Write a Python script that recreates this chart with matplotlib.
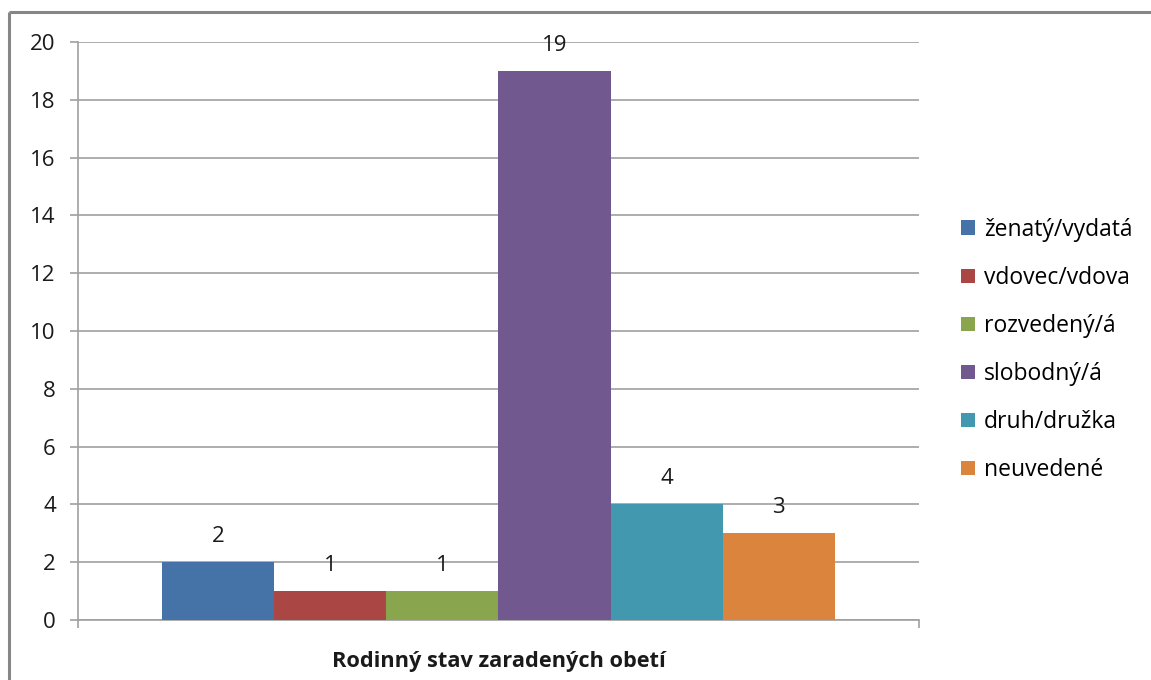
import matplotlib.pyplot as plt
import numpy as np
from matplotlib.lines import Line2D

# data
categories = ["ženatý/vydatá", "vdovec/vdova", "rozvedený/á", "slobodný/á", "druh/družka", "neuvedené"]
values = [2, 1, 1, 19, 4, 3]
colors = ["#4572A7", "#AA4643", "#89A54E", "#71588F", "#4198AF", "#DB843D"]
y_ticks = list(range(0, 21, 2))
x_title = "Rodinný stav zaradených obetí"

plt.rcParams["font.family"] = ["Open Sans", "DejaVu Sans"]

W, H = 1151, 680
fig = plt.figure(figsize=(W / 100, H / 100), dpi=100)
ax = fig.add_axes([78 / W, 1 - 620 / H, (919 - 78) / W, (620 - 42) / H])

n = len(values)
bw = 0.8 / n
xs = -0.4 + bw / 2 + bw * np.arange(n)
bars = ax.bar(xs, values, width=bw, color=colors, label=categories, zorder=3)

for x, v in zip(xs, values):
    ax.annotate(str(v), (x, v), xytext=(0, 18.5), textcoords="offset points",
                ha="center", va="center", fontsize=16, color="#1a1a1a")

ax.set_xlim(-0.5, 0.5)
ax.set_ylim(0, 20)
ax.set_yticks(y_ticks)
ax.set_yticklabels([str(t) for t in y_ticks], fontsize=16, color="#1a1a1a")
ax.set_xticks([-0.5, 0.5])
ax.set_xticklabels(["", ""])
ax.tick_params(axis="both", direction="out", length=6, width=1.2, color="#A0A0A0")
ax.tick_params(axis="y", pad=10)
ax.yaxis.grid(True, color="#A0A0A0", linewidth=1.2, zorder=0)
for side in ["top", "right"]:
    ax.spines[side].set_visible(False)
for side in ["left", "bottom"]:
    ax.spines[side].set_color("#A0A0A0")
    ax.spines[side].set_linewidth(1.2)

ax.set_xlabel(x_title, fontsize=15.7, fontweight="bold", labelpad=13, color="#1a1a1a")

leg = ax.legend(loc="center left", bbox_to_anchor=(961 / W, 1 - 350 / H), bbox_transform=fig.transFigure,
                frameon=False, fontsize=16.5, handlelength=0.6, handleheight=0.6,
                handletextpad=0.4, labelspacing=1.05, borderpad=0, borderaxespad=0)

# outer chart border: only top and left edges are inside the picture
border = dict(color="#868686", linewidth=2.2, transform=fig.transFigure, solid_capstyle="butt")
fig.add_artist(Line2D([9 / W, 1.05], [1 - 12 / H, 1 - 12 / H], **border))
fig.add_artist(Line2D([9 / W, 9 / W], [-0.05, 1 - 12 / H], **border))

fig.savefig("out.png", dpi=100)
